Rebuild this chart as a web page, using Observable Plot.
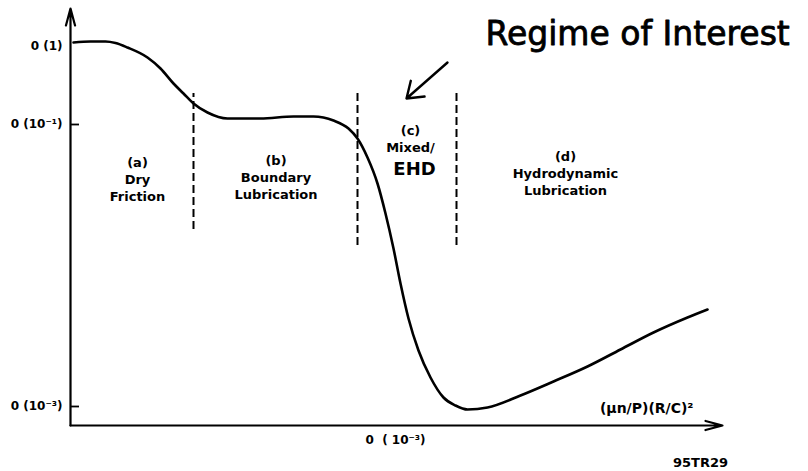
<!DOCTYPE html>
<html>
<head>
<meta charset="utf-8">
<script src="https://cdn.jsdelivr.net/npm/d3@7"></script>
<script src="https://cdn.jsdelivr.net/npm/@observablehq/plot@0.6"></script>
<style>
  html, body { margin: 0; padding: 0; background: #fff; }
  svg text { white-space: pre; }
</style>
</head>
<body>
<div id="chart"></div>
<script>
// Stribeck curve (schematic), friction coefficient vs (μn/P)(R/C)²
const curveX = [0.3, 2, 3.5, 4.5, 5.7, 7.7, 9, 10.3, 11.3, 12.3, 13.7, 15.7, 19, 22.3, 24.3, 26.3, 27.8, 28.7, 29.7, 30.7, 31.5, 32.3, 33.0, 33.8, 34.8, 36, 37.3, 38.5, 39.7, 41.7, 45, 48.3, 51.7, 55, 58.3, 61.7, 63.7];
const curveY = [38.3, 38.4, 38.4, 38.25, 37.8, 36.8, 35.7, 34.2, 33.2, 32.2, 31.3, 30.7, 30.7, 30.9, 30.9, 30.5, 29.7, 28.7, 26.8, 24.2, 21.2, 17.7, 14.2, 10.7, 7.5, 4.8, 2.8, 2.0, 1.6, 1.8, 3.0, 4.4, 5.9, 7.6, 9.3, 10.8, 11.6];

const yTickValues = [37.9, 30.1, 1.9];
const yTickLabels = ["0 (1)", "0 (10\u207B\u00B9)", "0 (10\u207B\u00B3)"];
const yTickMarks = [30.1, 1.9];

const xTickValues = [32.5];
const xTickLabels = ["0\u00A0\u00A0( 10\u207B\u00B3)"];

const boundaryX = [12.3, 28.7, 38.6];
const boundaryTop = [33.2, 33.2, 33.5];
const boundaryBottom = [19.6, 18.0, 18.0];

const regimeLabels = ["(a)\nDry\nFriction", "(b)\nBoundary\nLubrication", "(c)\nMixed/", "(d)\nHydrodynamic\nLubrication"];
const regimeLabelX = [6.7, 20.55, 34.0, 49.5];
const regimeLabelY = [24.7, 24.9, 28.7, 25.3];

const curve = curveX.map((x, i) => ({x, y: curveY[i]}));
const boundaries = boundaryX.map((x, i) => ({x, y1: boundaryBottom[i], y2: boundaryTop[i]}));
const regimes = regimeLabels.map((t, i) => ({t, x: regimeLabelX[i], y: regimeLabelY[i]}));
const yLabelMap = new Map(yTickValues.map((v, i) => [v, yTickLabels[i]]));
const xLabelMap = new Map(xTickValues.map((v, i) => [v, xTickLabels[i]]));

const chart = Plot.plot({
  width: 808,
  height: 471,
  marginLeft: 70,
  marginRight: 88,
  marginTop: 5,
  marginBottom: 46,
  x: {domain: [0, 65]},
  y: {domain: [0, 42]},
  style: {fontFamily: "DejaVu Sans", fontWeight: "bold", background: "#fff", color: "#000", overflow: "visible"},
  marks: [
    Plot.axisY(yTickValues, {tickSize: 0, tickPadding: 8, fontSize: 12, tickFormat: d => yLabelMap.get(d), label: null}),
    Plot.axisX(xTickValues, {tickSize: 0, tickPadding: 10, fontSize: 12, tickFormat: d => xLabelMap.get(d), label: null}),
    // axes lines with arrows
    Plot.arrow([{x1: 0, y1: 0, x2: 65.2, y2: 0}], {x1: "x1", y1: "y1", x2: "x2", y2: "y2", stroke: "#000", strokeWidth: 2.2, headLength: 12, headAngle: 30}),
    Plot.arrow([{x1: 0, y1: 0, x2: 0, y2: 41.7}], {x1: "x1", y1: "y1", x2: "x2", y2: "y2", stroke: "#000", strokeWidth: 2.2, headLength: 12, headAngle: 30}),
    // inward tick marks
    Plot.ruleY(yTickMarks, {x1: 0, x2: 0.9, stroke: "#000", strokeWidth: 1.8}),
    // regime boundaries
    Plot.ruleX(boundaries, {x: "x", y1: "y1", y2: "y2", stroke: "#000", strokeWidth: 2, strokeDasharray: "8,4"}),
    // curve
    Plot.line(curve, {x: "x", y: "y", curve: "monotone-x", stroke: "#000", strokeWidth: 2.6}),
    // regime labels
    Plot.text(regimes, {x: "x", y: "y", text: "t", fontSize: 13, lineHeight: 1.3, fill: "#000"}),
    Plot.text(["EHD"], {x: 34.4, y: 25.6, text: d => d, fontSize: 18, fill: "#000", fontWeight: "bold"}),
    // handwritten annotation
    Plot.text(["Regime of Interest"], {x: 41.5, y: 39.1, text: d => d, textAnchor: "start", fontSize: 33, fontWeight: "normal", fill: "#000", stroke: "#000", strokeWidth: 0.8}),
    Plot.arrow([{x1: 37.7, y1: 36.3, x2: 33.6, y2: 32.7}], {x1: "x1", y1: "y1", x2: "x2", y2: "y2", stroke: "#000", strokeWidth: 2.4, headLength: 16, headAngle: 70}),
    // axis title and figure id
    Plot.text(["(\u03BCn/P)(R/C)\u00B2"], {x: 62.3, y: 1.7, text: d => d, textAnchor: "end", fontSize: 14, fill: "#000"}),
    Plot.text(["95TR29"], {x: 63.0, y: -3.7, text: d => d, fontSize: 13, fill: "#000"})
  ]
});
document.getElementById("chart").appendChild(chart);
</script>
</body>
</html>
